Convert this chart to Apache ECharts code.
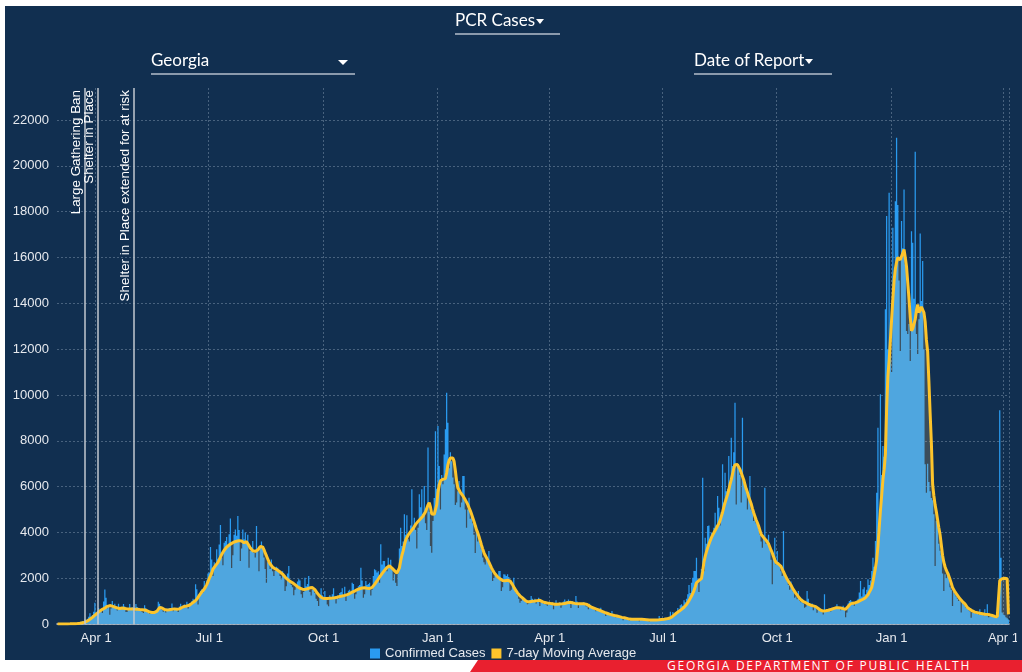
<!DOCTYPE html>
<html>
<head>
<meta charset="utf-8">
<script src="https://cdn.jsdelivr.net/npm/echarts@6/dist/echarts.min.js"></script>
<style>
  html, body { margin:0; padding:0; width:1022px; height:672px; overflow:hidden; background:#fff; }
  #panel { position:absolute; left:5px; top:6px; width:1017px; height:654px; background:#112f50; }
  #clip { position:absolute; left:0; top:0; width:1017px; height:672px; overflow:hidden; }
  #chart { position:absolute; left:0; top:0; width:1022px; height:672px; }
  .dd { position:absolute; color:#fff; font-family:Lato, "Open Sans", sans-serif; font-size:17px;
        border-bottom:2px solid #8b9aac; box-sizing:border-box; height:26px; line-height:22px; white-space:nowrap; }
  .tri { display:inline-block; width:0; height:0; border-left:4px solid transparent; border-right:4px solid transparent;
         border-top:5px solid #fff; vertical-align:middle; margin-left:1px; }
  #footer { position:absolute; left:470px; top:660px; width:552px; height:12px; background:#e9202f;
            clip-path:polygon(8px 0, 100% 0, 100% 100%, 0 100%); }
  #footer span { position:absolute; left:197px; top:0; font-family:"Open Sans", sans-serif; font-size:12px;
                 line-height:12px; letter-spacing:1.75px; color:#fff; white-space:nowrap; }
</style>
</head>
<body>
<div id="panel"></div>
<div id="clip"><div id="chart"></div></div>
<div class="dd" style="left:455px;top:9px;width:105px;">PCR Cases<span class="tri"></span></div>
<div class="dd" style="left:151px;top:49px;width:204px;">Georgia<span class="tri" style="position:absolute;left:186px;top:11px;border-left-width:5px;border-right-width:5px;"></span></div>
<div class="dd" style="left:694px;top:49px;width:138px;">Date of Report<span class="tri"></span></div>
<div id="footer"><span>GEORGIA DEPARTMENT OF PUBLIC HEALTH</span></div>
<script>
// first day of the series, one bar per day
const startDay = '2020-03-01';

// confirmed cases per day
const cases2020 = [
  // Mar
  0,1,0,0,0,2,4,1,5,5, 5,9,11,9,33,27,22,21,50,91, 135,87,193,128,225,320,467,328,390,540, 930,
  // Apr
  420,560,700,580,620,480,980,1510,1150,690, 820,400,680,1000,760,880,720,590,880,700, 720,690,870,760,520,540,620,870,690,740,
  // May
  680,560,870,740,610,650,620,520,480,820, 690,570,480,440,460,560,520,510,480,580, 970,880,790,620,540,600,500,620,680,700, 640,
  // Jun
  890,560,620,690,700,520,760,880,690,810, 850,830,970,680,910,920,990,1100,1050,1730, 1520,850,1300,1450,1520,1380,1880,1640,1900,2200,
  // Jul
  2250,3360,2820,2100,2700,2600,3260,2850,3470,4320, 2900,2570,3550,3620,3800,3400,3915,4610,2450,3000, 3900,4130,3850,4710,4100,2750,3300,4130,3700,3990, 3600,
  // Aug
  3900,2460,3190,3350,3620,3100,2900,4280,3190,2300, 3400,3600,3300,2900,2400,1800,2700,2750,2400,2820, 2300,2100,2310,2500,2460,2350,2100,1950,2300,2150, 1440,
  // Sep
  1650,2200,2530,1900,1700,1600,1250,1500,1700,1850, 1950,1900,1300,1150,1400,2020,1650,1750,2100,1400, 1240,1500,1550,1350,1100,1000,785,1200,1560,1250,
  // Oct
  1100,1440,1150,850,780,1250,1180,1300,1560,1200, 900,1240,1100,1350,1400,1560,1200,1630,1000,1250, 1450,1500,1400,1800,1750,1100,1300,1500,1650,1700, 2460,
  // Nov
  1900,1150,1300,1880,1700,1750,1800,1240,1500,2100, 2390,2350,2250,2300,1800,3480,2600,2750,2750,2500, 2300,2890,2500,2800,2400,1900,2170,1800,1660,2200,
  // Dec
  3300,4200,3400,3600,4790,3900,4750,3700,3600,4300, 5880,4200,4640,4100,3300,4200,5660,5100,5880,4800, 6020,4400,4100,7700,4900,3400,3110,4500,5500,8420, 5900
];
const cases2021 = [
  // Jan
  8640,6900,5000,6500,6100,7400,8500,10100,8790,6800, 7500,7110,6400,6100,5200,5300,5800,6240,5100,5300, 6460,6460,5000,4200,5000,5510,4600,4900,4400,3900, 3100,
  // Feb
  4300,3600,3770,3500,3260,2900,2700,2600,2900,2800, 3190,2500,2300,1880,2000,2100,2200,2000,2310,2310, 1440,1600,2170,2160,2100,2170,2050,1440,
  // Mar
  1500,1700,2020,1600,1350,1250,1100,930,1000,1200, 1150,1100,960,860,900,1050,1220,1100,1000,1100, 900,1000,1150,785,950,1000,880,1000,850,800, 950,
  // Apr
  900,850,950,640,880,1035,900,870,950,712, 820,980,1070,960,1000,1070,900,700,1000,940, 880,1220,980,700,850,880,900,950,900,780,
  // May
  760,640,880,720,700,712,620,560,650,620, 580,712,530,480,450,350,520,490,420,380, 567,380,330,300,370,340,280,260,300,160, 240,
  // Jun
  230,210,180,150,230,220,210,190,200,230, 210,120,200,240,220,190,180,170,200,110, 160,180,190,170,150,200,190,350,180,170,
  // Jul
  190,230,210,240,250,300,537,330,520,460, 500,540,700,500,820,860,800,1040,950,1100, 1300,1700,1350,1800,2020,2310,2310,2890,1950,1400, 1900,
  // Aug
  2400,6390,2300,3770,3500,4280,4300,3600,4000,3900, 4200,4860,4300,5590,5080,4300,4900,6970,5300,6600, 5800,5900,7330,6200,8130,6900,7500,9660,5220,7000, 6820,
  // Sep
  6500,5300,9000,6300,6100,5800,5000,5700,6460,5000, 4900,4500,4700,4400,4350,4100,3900,3600,3330,3800, 5950,3500,3600,3900,3300,2800,1730,2900,3770,2600,
  // Oct
  3190,2700,2600,2300,2100,4060,2200,2000,1880,1700, 1500,1850,1600,1400,1150,1200,1077,1440,1000,950, 1100,900,712,750,1440,1100,860,800,900,600, 800,
  // Nov
  800,495,650,600,560,520,420,1300,560,620, 580,600,550,712,700,650,720,860,720,680, 600,700,800,620,300,500,900,1000,1050,980,
  // Dec
  950,800,900,1000,1100,1370,1880,1200,1515,1600, 1300,1500,1950,1700,1900,2310,2890,2500,3620,5730, 8570,4200,10030,6500,7770,7300,13740,17810,12000,18830, 11790
];
const cases2022 = [
  // Jan
  11000,17300,14800,18460,21230,18290,15000,11920,17590,16400, 18970,15700,12790,12660,13100,11480,17150,16640,14200,20620, 12660,11790,13300,17050,14100,15850,12000,6970,5730,7000, 6200,
  // Feb
  5800,5500,5400,4790,2530,4500,4300,3500,3200,3000, 2200,1440,2170,2000,2100,2240,1600,1500,785,1400, 1300,1200,1100,1000,1050,500,950,860,
  // Mar
  800,700,650,600,560,275,500,520,480,450, 470,420,640,400,420,380,640,420,860,300, 330,360,350,310,300,280,260,420,9330,2890, 500,
  // Apr
  420,380,300,250,200
];

// 7-day moving average as drawn
const avg2020 = [
  0,0,1,1,2,2,3,3,4,5, 6,8,10,12,14,16,20,26,33,40, 50,62,80,105,135,170,205,245,290,335, 385,
  430,470,520,570,610,640,660,700,740,770, 790,805,800,780,760,740,720,700,690,680, 690,700,690,680,670,660,650,660,670,660,
  650,645,640,640,635,630,630,625,620,610, 600,580,550,520,505,500,500,505,520,560, 640,720,730,700,660,630,620,615,620,625, 630,
  640,650,660,650,640,650,660,690,720,750, 770,780,790,800,820,860,900,940,980,1030, 1080,1150,1250,1330,1400,1450,1530,1620,1720,1850,
  1990,2100,2230,2400,2480,2550,2620,2690,2800,2920, 3040,3130,3220,3300,3360,3410,3450,3490,3520,3550, 3580,3600,3610,3620,3640,3650,3620,3560,3550,3570, 3590,
  3520,3420,3320,3250,3200,3180,3170,3180,3230,3310, 3380,3410,3360,3250,3100,2980,2850,2720,2620,2540, 2480,2440,2410,2390,2350,2310,2270,2240,2180,2110, 2050,
  2000,1950,1900,1860,1830,1800,1760,1720,1680,1630, 1590,1560,1540,1520,1510,1510,1520,1540,1560,1580, 1590,1590,1560,1500,1420,1340,1270,1210,1160,1130,
  1120,1110,1110,1115,1120,1125,1130,1135,1140,1150, 1160,1170,1185,1200,1210,1220,1235,1250,1265,1285, 1300,1330,1360,1390,1420,1440,1470,1500,1520,1540, 1560,
  1570,1580,1585,1575,1560,1555,1550,1560,1600,1660, 1730,1800,1880,1960,2050,2130,2200,2270,2340,2400, 2470,2530,2540,2500,2440,2390,2330,2270,2220,2200,
  2450,2750,3000,3190,3450,3650,3780,3880,3960,4030, 4090,4170,4260,4350,4420,4480,4540,4600,4650,4720, 4800,4900,5050,5200,5300,5100,4800,4780,4790,4820, 5200
];
const avg2021 = [
  5750,6050,6250,6300,6320,6300,6350,6600,6950,7150, 7250,7280,7250,7100,6700,6250,5950,5850,5750,5680, 5600,5520,5420,5320,5220,5080,4950,4800,4640,4480, 4300,
  4120,3990,3820,3640,3450,3280,3120,3000,2900,2820, 2700,2580,2460,2360,2270,2180,2100,2060,2020,1970, 1930,1900,1890,1890,1900,1910,1900,1880,
  1800,1720,1620,1520,1440,1360,1290,1230,1180,1140, 1090,1040,1000,975,970,975,985,995,1000,1005, 1010,1020,1030,1035,1010,980,950,935,925,915, 905,
  900,895,885,875,865,860,860,865,870,875, 880,885,895,910,925,935,945,940,930,915, 900,890,885,885,885,885,885,885,880,870,
  850,820,780,750,720,700,680,660,640,620, 600,580,555,530,510,490,470,450,430,415, 400,385,370,360,350,335,320,305,290,280, 270,
  260,245,230,215,205,205,205,205,205,205, 205,205,205,205,205,200,195,190,185,178, 175,175,175,175,175,178,182,188,194,200,
  205,210,215,225,235,250,270,300,340,390, 440,480,520,560,600,640,680,730,790,850, 920,1020,1120,1220,1330,1460,1620,1800,1880,1900, 1920,
  1980,2300,2700,2950,3150,3330,3480,3630,3770,3880, 3980,4080,4180,4290,4380,4510,4700,4880,5100,5300, 5480,5650,5850,6100,6300,6550,6800,6950,7000,6960, 6900,
  6750,6600,6450,6300,6100,5900,5750,5550,5400,5250, 5050,4870,4700,4550,4420,4280,4100,3920,3840,3780, 3720,3660,3620,3500,3360,3220,3100,2950,2800,2690,
  2640,2620,2600,2520,2400,2280,2170,2060,1950,1860, 1780,1700,1600,1500,1420,1340,1260,1190,1120,1060, 1010,980,950,930,900,870,850,820,800,790, 780,
  760,720,680,640,600,570,565,570,580,590, 600,615,630,650,670,690,705,712,715,710, 700,690,670,650,640,680,760,840,880,900,
  910,920,930,950,970,1000,1030,1060,1080,1110, 1150,1200,1280,1380,1480,1600,1850,2150,2450,2800, 3400,4200,4950,5600,6300,6750,7400,9400,10800,11500, 12400
];
const avg2022 = [
  13300,14200,15000,15500,15800,16000,16050,15900,15850,16200, 16350,16000,15600,14900,14200,13400,12800,12900,13100,13300, 13700,13950,13600,13700,13850,13880,13600,13200,12400,11900, 10600,
  9200,7900,6100,5600,5200,4900,4550,4200,3900,3450, 3000,2700,2500,2350,2230,2100,1950,1780,1600,1500, 1400,1320,1250,1170,1100,1040,980,920,
  880,800,720,680,640,600,570,540,520,505, 495,480,470,460,450,440,430,425,420,410, 400,385,370,350,330,310,320,340,1900,1960, 1980,
  1990,2000,2000,1980,420
];

// axis tick labels: first day of each quarter
const monthNames = ['Jan','Feb','Mar','Apr','May','Jun','Jul','Aug','Sep','Oct','Nov','Dec'];
const quarterMonths = [1, 4, 7, 10];

// policy events drawn as vertical lines
const eventDates = ['2020-03-23', '2020-04-02', '2020-05-01'];
const eventNames = ['Large Gathering Ban', 'Shelter in Place', 'Shelter in Place extended for at risk'];

const cases = cases2020.concat(cases2021, cases2022);
const movingAvg = avg2020.concat(avg2021, avg2022);

// one category per day
let days = [];
let t0 = Date.parse(startDay + 'T00:00:00Z');
for (let i = 0; i < cases.length; i++) {
  days.push(new Date(t0 + i * 86400000).toISOString().slice(0, 10));
}

function isQuarterStart(value) {
  let m = parseInt(value.slice(5, 7));
  return value.slice(8) === '01' && quarterMonths.indexOf(m) >= 0;
}

const gridColor = '#48627e';
const textColor = '#e6e9ee';

let chart = echarts.init(document.getElementById('chart'));
chart.setOption({
  backgroundColor: 'transparent',
  animation: false,
  textStyle: { fontFamily: '"Liberation Sans", Arial, sans-serif' },
  grid: { left: 57, right: 6, top: 88, bottom: 48 },
  legend: {
    left: 370, top: 647, padding: 0, itemGap: 6,
    itemWidth: 10, itemHeight: 10,
    textStyle: { color: textColor, fontSize: 13 },
    data: [
      { name: 'Confirmed Cases', icon: 'rect' },
      { name: '7-day Moving Average', icon: 'rect' }
    ]
  },
  xAxis: {
    type: 'category',
    data: days,
    boundaryGap: true,
    axisLine: { lineStyle: { color: '#c9cdd3', width: 1.5 } },
    axisTick: {
      alignWithLabel: true, length: 5,
      interval: (i, v) => i === 0 || isQuarterStart(v),
      lineStyle: { color: '#c9cdd3' }
    },
    axisLabel: {
      interval: (i, v) => isQuarterStart(v),
      formatter: v => monthNames[parseInt(v.slice(5, 7)) - 1] + ' 1',
      color: textColor, fontSize: 13, margin: 8
    },
    splitLine: {
      show: true,
      interval: (i, v) => isQuarterStart(v),
      lineStyle: { color: gridColor, type: [2, 2] }
    }
  },
  yAxis: {
    type: 'value', min: 0, max: 23400, interval: 2000,
    axisLine: { show: false }, axisTick: { show: false },
    axisLabel: { color: textColor, fontSize: 13, margin: 8, showMaxLabel: false, formatter: v => String(v) },
    splitLine: { showMaxLine: false, lineStyle: { color: gridColor, type: [2, 2] } }
  },
  series: [
    {
      name: 'Confirmed Cases',
      type: 'bar',
      data: cases,
      large: true,
      largeThreshold: 100,
      barCategoryGap: '0%',
      itemStyle: { color: '#2a9bf0' },
      markLine: {
        silent: true, symbol: 'none', animation: false,
        lineStyle: { color: '#c2c8cf', width: 1.5, type: 'solid' },
        label: { position: 'insideEndTop', color: '#ffffff', fontSize: 13.4, distance: 2 },
        data: eventDates.map((d, i) => ({ xAxis: d, label: { formatter: eventNames[i] } }))
      }
    },
    {
      name: '7-day Moving Average',
      type: 'line',
      data: movingAvg,
      symbol: 'none',
      itemStyle: { color: '#fdc42b' },
      lineStyle: { color: '#fdc42b', width: 3 },
      areaStyle: { color: 'rgba(255,220,150,0.25)', origin: 'start' }
    }
  ]
});
</script>
</body>
</html>
